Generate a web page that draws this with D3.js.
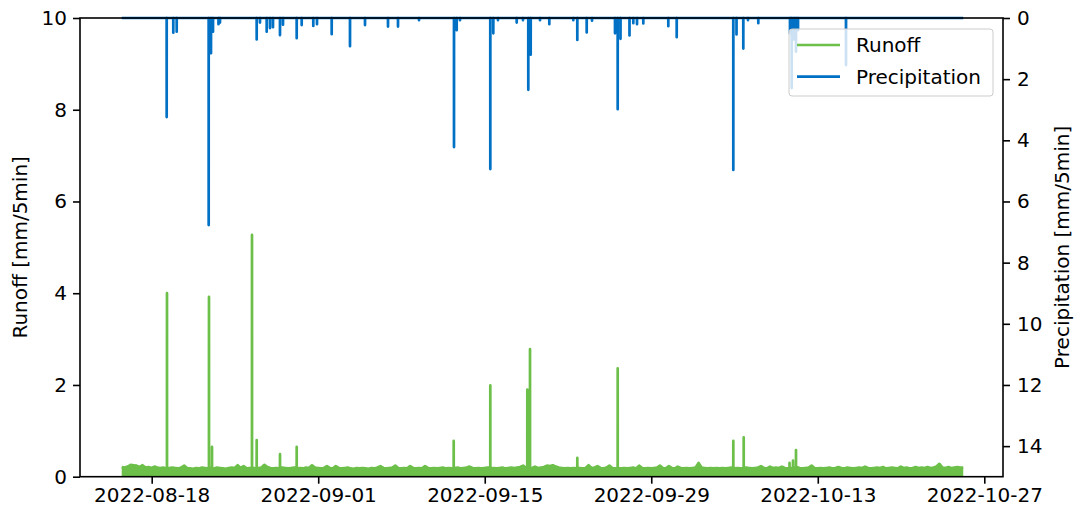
<!DOCTYPE html>
<html><head><meta charset="utf-8">
<script src="https://cdn.jsdelivr.net/npm/d3@7"></script>
<style>
body{margin:0;background:#fff}
svg{display:block}
text{font-family:"DejaVu Sans",sans-serif;fill:#000}
</style>
</head><body>
<svg id="c" width="1075" height="516"></svg>
<script>
// ---------- data ----------
const xTickLabels = ["2022-08-18","2022-09-01","2022-09-15","2022-09-29","2022-10-13","2022-10-27"];
const xDomain = ["2022-08-11T23:20","2022-10-28T13:44"];
const runoffTicks = [0,2,4,6,8,10];
const precipTicks = [0,2,4,6,8,10,12,14];
const runoffDomain = [0,10];
const precipDomain = [0,15];

// runoff baseline envelope, one value every 6 hours from runoffStart
const runoffStart = "2022-08-15T11:30";
const runoffStepHours = 6;
const runoffBase = [
0.21,0.2,0.22,0.26,0.25,0.24,0.21,0.25,0.2,0.21,0.19,0.22,0.2,0.19,0.2,0.18,0.19,0.2,0.19,0.18,
0.2,0.24,0.19,0.18,0.17,0.19,0.18,0.2,0.19,0.18,0.19,0.18,0.2,0.19,0.18,0.17,0.19,0.2,0.19,0.25,
0.19,0.23,0.18,0.19,0.2,0.18,0.19,0.2,0.26,0.21,0.19,0.18,0.19,0.18,0.2,0.19,0.18,0.19,0.2,0.18,
0.19,0.18,0.2,0.19,0.25,0.2,0.19,0.18,0.19,0.23,0.19,0.18,0.23,0.19,0.18,0.19,0.2,0.18,0.17,0.19,
0.18,0.19,0.18,0.17,0.19,0.18,0.2,0.23,0.19,0.18,0.19,0.2,0.24,0.19,0.18,0.19,0.18,0.23,0.19,0.18,
0.19,0.18,0.23,0.19,0.18,0.19,0.18,0.19,0.2,0.18,0.19,0.18,0.19,0.2,0.18,0.19,0.2,0.22,0.19,0.18,
0.19,0.18,0.19,0.2,0.18,0.19,0.18,0.19,0.2,0.18,0.19,0.2,0.19,0.2,0.21,0.24,0.19,0.2,0.19,0.22,
0.19,0.2,0.21,0.24,0.23,0.25,0.22,0.2,0.19,0.18,0.19,0.18,0.19,0.18,0.19,0.18,0.19,0.25,0.19,0.2,
0.23,0.19,0.18,0.2,0.24,0.19,0.18,0.19,0.18,0.19,0.18,0.19,0.2,0.18,0.24,0.19,0.18,0.19,0.18,0.19,
0.2,0.24,0.19,0.18,0.23,0.19,0.18,0.22,0.19,0.18,0.19,0.18,0.19,0.2,0.3,0.2,0.19,0.18,0.19,0.18,
0.19,0.18,0.19,0.18,0.19,0.2,0.18,0.19,0.18,0.19,0.2,0.19,0.18,0.19,0.2,0.23,0.19,0.18,0.22,0.19,
0.2,0.19,0.22,0.19,0.18,0.19,0.2,0.21,0.19,0.18,0.19,0.2,0.24,0.19,0.18,0.19,0.18,0.19,0.2,0.18,
0.19,0.21,0.19,0.18,0.2,0.19,0.18,0.19,0.2,0.19,0.22,0.19,0.18,0.19,0.2,0.19,0.21,0.18,0.19,0.2,
0.19,0.18,0.22,0.19,0.2,0.18,0.19,0.21,0.19,0.2,0.19,0.21,0.19,0.2,0.22,0.28,0.2,0.19,0.21,0.19,
0.2,0.21,0.2,0.2
];
// runoff peaks (single 5-min readings) [time, mm/5min]
const runoffPeaks = [
["2022-08-19T06:52",4.0],["2022-08-22T19:36",3.92],["2022-08-23T01:41",0.65],
["2022-08-26T10:23",5.27],["2022-08-26T19:52",0.8],["2022-08-28T18:53",0.49],
["2022-08-30T04:35",0.65],["2022-09-12T09:23",0.78],["2022-09-15T11:14",1.99],
["2022-09-18T13:54",1.9],["2022-09-18T19:21",2.78],["2022-09-22T18:48",0.41],
["2022-09-26T04:18",2.36],["2022-10-05T21:34",0.78],["2022-10-06T18:33",0.86],
["2022-10-10T15:00",0.3],["2022-10-10T22:00",0.35],["2022-10-11T04:03",0.58]
];
// precipitation series range and events [time, mm/5min]
const precipStart = "2022-08-15T11:30";
const precipEnd = "2022-10-25T05:30";
const precipEvents = [
["2022-08-19T06:15",3.24],["2022-08-19T19:35",0.48],["2022-08-20T02:27",0.45],
["2022-08-22T19:00",6.77],["2022-08-22T23:40",1.15],["2022-08-23T03:42",0.45],
["2022-08-23T14:47",0.2],["2022-08-23T17:48",0.15],["2022-08-26T19:52",0.7],
["2022-08-27T02:31",0.15],["2022-08-27T16:03",0.45],["2022-08-27T22:42",0.33],
["2022-08-28T04:45",0.3],["2022-08-28T18:53",0.56],["2022-08-29T00:56",0.22],
["2022-08-30T04:35",0.66],["2022-08-30T14:40",0.23],["2022-08-31T14:05",0.26],
["2022-08-31T21:33",0.2],["2022-09-02T03:13",0.53],["2022-09-03T16:08",0.92],
["2022-09-04T22:25",0.23],["2022-09-06T20:49",0.28],["2022-09-07T17:00",0.28],
["2022-09-09T11:22",0.07],["2022-09-12T09:59",4.22],["2022-09-12T15:26",0.4],
["2022-09-12T22:06",0.07],["2022-09-15T11:14",4.94],["2022-09-15T17:17",0.5],
["2022-09-16T02:46",0.07],["2022-09-17T16:30",0.15],["2022-09-18T05:13",0.07],
["2022-09-18T15:54",2.35],["2022-09-18T20:45",1.2],["2022-09-19T15:31",0.07],
["2022-09-20T10:18",0.2],["2022-09-22T10:44",0.07],["2022-09-22T18:48",0.72],
["2022-09-23T13:45",0.47],["2022-09-24T00:27",0.09],["2022-09-25T22:51",0.5],
["2022-09-26T04:18",2.98],["2022-09-26T09:58",0.68],["2022-09-27T04:06",0.57],
["2022-09-27T11:47",0.17],["2022-09-27T19:15",0.2],["2022-09-28T07:58",0.18],
["2022-09-30T10:25",0.27],["2022-10-01T03:22",0.63],["2022-10-05T21:34",4.97],
["2022-10-06T04:02",0.54],["2022-10-06T17:44",1.0],["2022-10-07T03:13",0.07],
["2022-10-08T00:00",0.17],["2022-10-10T15:58",0.5],["2022-10-10T19:23",2.29],
["2022-10-11T00:01",0.7],["2022-10-11T04:03",1.1],["2022-10-11T08:05",0.4],
["2022-10-15T08:57",1.54]
];
const seriesNames = ["Runoff","Precipitation"];
const colors = {Runoff:"#6cc04a", Precipitation:"#0071c5"};

// ---------- build ----------
const parseT = d3.timeParse("%Y-%m-%dT%H:%M");
const parseD = d3.timeParse("%Y-%m-%d");
const FIVE = 5*60e3;
const STEP = runoffStepHours*3600e3;

const t0 = parseT(runoffStart);
const runoff = runoffBase.map((v,i)=>({t:new Date(+t0 + i*STEP), v}));
runoffPeaks.forEach(([s,v])=>{
  const t = parseT(s);
  const i = Math.max(0, Math.min(runoffBase.length-1, Math.floor((t - t0)/STEP)));
  const b = runoffBase[i];
  runoff.push({t:new Date(+t-FIVE), v:b},{t, v},{t:new Date(+t+FIVE), v:b});
});
runoff.sort((a,b)=>a.t-b.t);

const precip = [{t:parseT(precipStart), v:0}];
precipEvents.map(([s,v])=>({t:parseT(s),v})).sort((a,b)=>a.t-b.t).forEach(e=>{
  precip.push({t:new Date(+e.t-FIVE),v:0},{t:e.t,v:e.v},{t:new Date(+e.t+FIVE),v:0});
});
precip.push({t:parseT(precipEnd), v:0});

const L=80, R=1003, T=18, B=476.7;
const LW = 2.7;
const svg = d3.select("#c");
const x = d3.scaleTime().domain(xDomain.map(parseT)).range([L,R]);
const yL = d3.scaleLinear().domain(runoffDomain).range([B,T]);
const yR = d3.scaleLinear().domain(precipDomain).range([T,B]);

// runoff
svg.append("path").datum(runoff)
  .attr("d", d3.area().x(d=>x(d.t)).y0(yL(0)).y1(d=>yL(d.v)))
  .attr("fill", colors.Runoff);
svg.append("path").datum(runoff)
  .attr("d", d3.line().x(d=>x(d.t)).y(d=>yL(d.v)))
  .attr("fill","none").attr("stroke",colors.Runoff).attr("stroke-width",LW)
  .attr("stroke-linejoin","round");
// precipitation
svg.append("path").datum(precip)
  .attr("d", d3.line().x(d=>x(d.t)).y(d=>yR(d.v)))
  .attr("fill","none").attr("stroke",colors.Precipitation).attr("stroke-width",LW)
  .attr("stroke-linejoin","round");

// axes
function styleAxis(g){
  g.select(".domain").remove();
  g.selectAll(".tick line").attr("stroke","#000").attr("stroke-width",1.6);
  g.selectAll(".tick text").attr("font-size",20).attr("font-family","DejaVu Sans").attr("fill","#000");
}
svg.append("g").attr("transform",`translate(0,${B})`)
  .call(d3.axisBottom(x).tickValues(xTickLabels.map(parseD)).tickFormat(d3.timeFormat("%Y-%m-%d")).tickSize(7).tickPadding(4))
  .call(styleAxis);
svg.append("g").attr("transform",`translate(${L},0)`)
  .call(d3.axisLeft(yL).tickValues(runoffTicks).tickFormat(d3.format("d")).tickSize(7).tickPadding(6))
  .call(styleAxis);
svg.append("g").attr("transform",`translate(${R},0)`)
  .call(d3.axisRight(yR).tickValues(precipTicks).tickFormat(d3.format("d")).tickSize(7).tickPadding(7))
  .call(styleAxis);

// spines
svg.append("rect").attr("x",L).attr("y",T).attr("width",R-L).attr("height",B-T)
  .attr("fill","none").attr("stroke","#000").attr("stroke-width",1.6);

// axis titles
svg.append("text").attr("transform",`translate(20,${(T+B)/2}) rotate(-90)`)
  .attr("text-anchor","middle").attr("dy","0.35em").attr("font-size",20).text("Runoff [mm/5min]");
svg.append("text").attr("transform",`translate(1062,${(T+B)/2}) rotate(-90)`)
  .attr("text-anchor","middle").attr("dy","0.35em").attr("font-size",20).text("Precipitation [mm/5min]");

// legend
const lg = svg.append("g");
lg.append("rect").attr("x",789).attr("y",29).attr("width",204).attr("height",67).attr("rx",3)
  .attr("fill","#fff").attr("fill-opacity",0.8).attr("stroke","#ccc").attr("stroke-width",1);
seriesNames.forEach((n,i)=>{
  const yy = 45 + i*31.7;
  lg.append("line").attr("x1",797).attr("x2",840).attr("y1",yy).attr("y2",yy)
    .attr("stroke",colors[n]).attr("stroke-width",LW);
  lg.append("text").attr("x",856).attr("y",yy).attr("dy","0.35em").attr("font-size",20).text(n);
});
</script>
</body></html>
